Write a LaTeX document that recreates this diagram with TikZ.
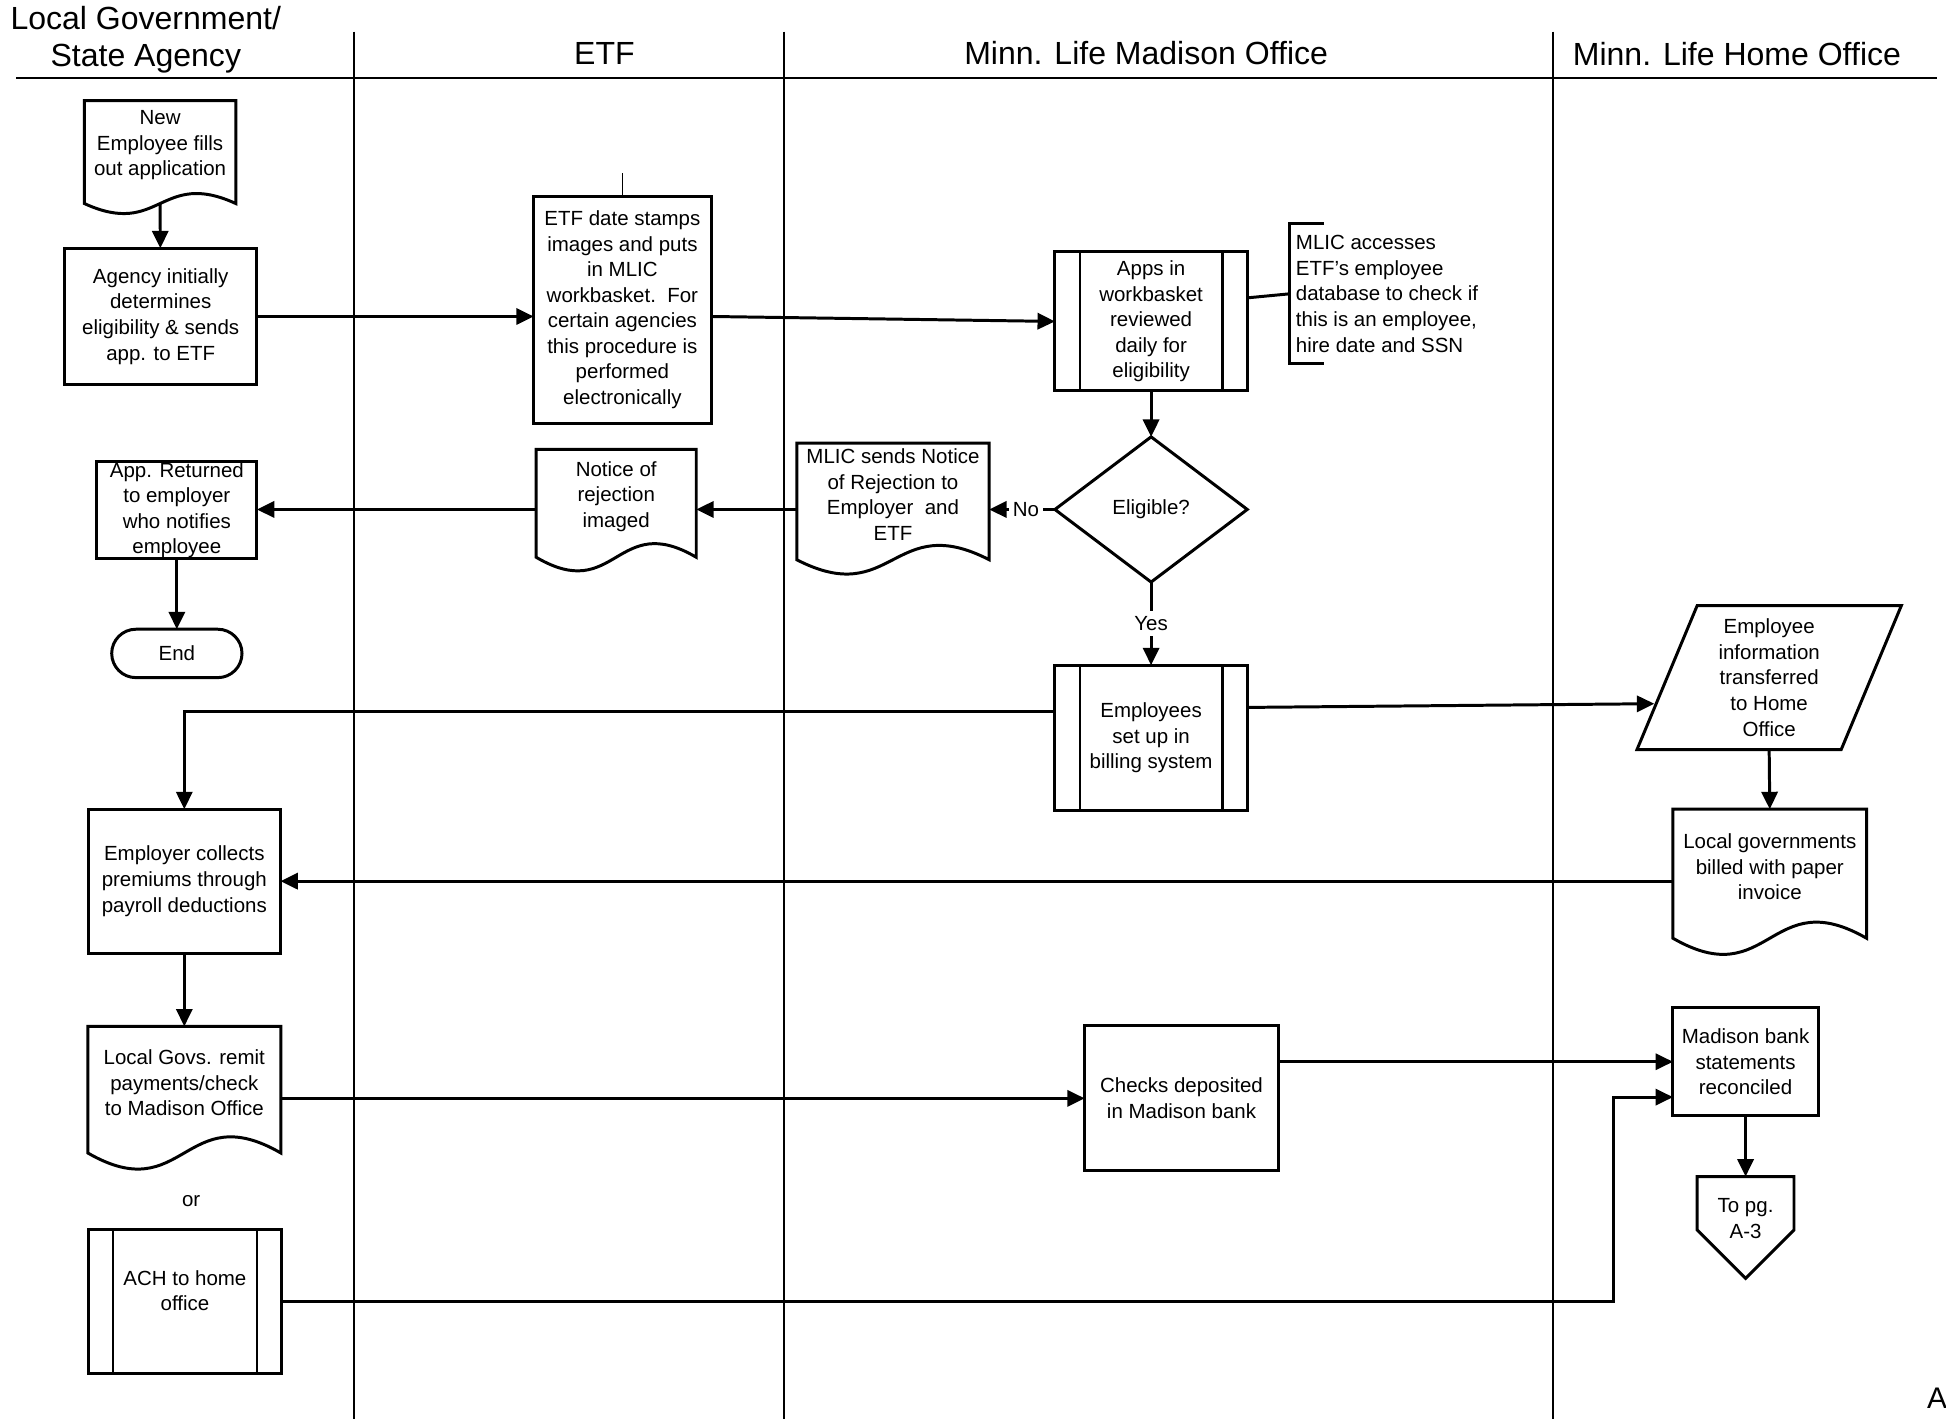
\documentclass[tikz,border=0pt]{standalone}
\usepackage{fontspec}
\setmainfont{Liberation Sans}
\usetikzlibrary{arrows.meta,shapes.geometric}

\newcommand{\flowfont}{\fontsize{16.5}{20.6}\selectfont}
\newcommand{\lanefont}{\fontsize{25.8}{29.7}\selectfont}

\tikzset{
  ln/.style={line width=2.4pt},
  lane/.style={line width=1.6pt},
  procbox/.style={draw, ln, align=center, inner sep=2pt, outer sep=0pt, font=\flowfont},
  docbox/.style={align=center, inner sep=2pt, outer sep=0pt, font=\flowfont},
  arr/.style={ln, -{Triangle[length=14pt,width=13pt]}},
  lbl/.style={fill=white, inner xsep=3pt, inner ysep=4.5pt, font=\flowfont},
}

\begin{document}
\begin{tikzpicture}[x=1pt, y=-1pt]
\useasboundingbox (0,0) rectangle (1568,1143);

\draw[lane] (13,62.7) -- (1560.5,62.7);
\foreach \x in {285,632,1251} \draw[lane] (\x,25.5) -- (\x,1143);

\node[font=\lanefont, align=center] (hlocal) at (117.5,32.2) {Local Government/\\State Agency};
\node[font=\lanefont, anchor=base] (hetf) at (487,52) {ETF};
\node[font=\lanefont, anchor=base] (hmad) at (923.5,52) {Minn. Life Madison Office};
\node[font=\lanefont, anchor=base] (hhome) at (1399.5,53) {Minn. Life Home Office};

\node[docbox, minimum width=122, minimum height=72] (newemp) at (129,117) {New\\Employee fills\\out application};
\node[procbox, minimum width=155, minimum height=110] (agency) at (129.5,255) {Agency initially\\determines\\eligibility \& sends\\app. to ETF};
\node[procbox, minimum width=143, minimum height=183] (etfbox) at (501.5,249.5) {ETF date stamps\\images and puts\\in MLIC\\workbasket.\ \ For\\certain agencies\\this procedure is\\performed\\electronically};
\node[procbox, minimum width=155, minimum height=112] (apps) at (927.5,259) {Apps in\\workbasket\\reviewed\\daily for\\eligibility};
\node[anchor=west, align=left, font=\flowfont, minimum height=112.5, inner xsep=5pt, inner ysep=0pt] (note) at (1039,236.75) {MLIC accesses\\ETF’s employee\\database to check if\\this is an employee,\\hire date and SSN};
\node[procbox, diamond, minimum width=155, minimum height=117, inner sep=0pt] (dia) at (927.5,410.5) {Eligible?};
\node[docbox, minimum width=155, minimum height=83] (mlic) at (719.5,398.5) {MLIC sends Notice\\of Rejection to\\Employer\ \ and\\ETF};
\node[docbox, minimum width=129, minimum height=76] (notice) at (496.5,400) {Notice of\\rejection\\imaged};
\node[procbox, minimum width=129, minimum height=78, inner ysep=0pt] (ret) at (142.5,411) {App. Returned\\to employer\\who notifies\\employee};
\node[procbox, rounded corners=19.5pt, minimum width=105, minimum height=39] (endt) at (142.5,526.5) {End};
\node[procbox, minimum width=155, minimum height=117] (emp) at (927.5,594.5) {Employees\\set up in\\billing system};
\node[procbox, trapezium, trapezium left angle=63.8, trapezium right angle=116.2, trapezium stretches body, minimum width=213, minimum height=116] (info) at (1425.5,546) {Employee\\information\\transferred\\to Home\\Office};
\node[docbox, minimum width=156, minimum height=93] (billed) at (1426,698.5) {Local governments\\billed with paper\\invoice};
\node[procbox, minimum width=155, minimum height=116] (employer) at (148.5,710) {Employer collects\\premiums through\\payroll deductions};
\node[docbox, minimum width=155.5, minimum height=91] (remit) at (148.5,872.5) {Local Govs. remit\\payments/check\\to Madison Office};
\node[font=\flowfont] (ortext) at (154,968) {or};
\node[procbox, minimum width=156, minimum height=116, label={[font=\flowfont, align=center, yshift=9pt]center:ACH to home\\office}] (ach) at (149,1049) {};
\node[procbox, minimum width=156, minimum height=117] (checks) at (952,885) {Checks deposited\\in Madison bank};
\node[procbox, minimum width=117, minimum height=87] (madison) at (1406.5,855.5) {Madison bank\\statements\\reconciled};
\node[docbox, minimum width=78, minimum height=68] (offpg) at (1406.5,982) {To pg.\\A-3};
\node[font=\fontsize{24}{28}\selectfont, anchor=base west, inner sep=0pt] (pgno) at (1552.5,1135) {A};

\foreach \n/\k in {newemp/28, mlic/40, notice/38, billed/45, remit/45}
  \draw[ln] (\n.north west) -- (\n.north east) -- ([shift={(0,11)}]\n.south east)
    .. controls ([shift={(0,11-\k)}]\n.south) and ([shift={(0,11+\k)}]\n.south) .. ([shift={(0,11)}]\n.south west) -- cycle;
\foreach \n in {apps,emp,ach}
  \draw[line width=1.8pt] ([xshift=20pt]\n.north west) -- ([xshift=20pt]\n.south west)
    ([xshift=-20pt]\n.north east) -- ([xshift=-20pt]\n.south east);
\draw[ln] (offpg.north west) -- (offpg.north east) -- ([shift={(0,43)}]offpg.north east) -- ([shift={(0,14)}]offpg.south) -- ([shift={(0,43)}]offpg.north west) -- cycle;
\draw[ln] ([xshift=28pt]note.north west) -- (note.north west) -- (note.south west) -- ([xshift=28pt]note.south west);
\draw[line width=0.8pt] (etfbox.north) -- ++(0,-19);

\draw[arr] ([shift={(0,11)}]newemp.south) -- (agency);
\draw[arr] (agency.east) -- (agency.east -| etfbox.west);
\draw[arr] (agency.east -| etfbox.east) -- (apps.west);
\draw[ln] ([shift={(0,-19)}]apps.east) -- (note.west);
\draw[arr] (apps) -- (dia);
\draw[arr] (dia.west) -- node[lbl, pos=0.44] (nolbl) {No} (dia.west -| mlic.east);
\draw[arr] (mlic.west |- dia) -- (notice.east |- dia);
\draw[arr] (notice.west |- dia) -- (ret.east |- dia);
\draw[arr] (ret) -- (endt);
\draw[arr] (dia) -- node[lbl] (yeslbl) {Yes} (emp);
\draw[arr] ([shift={(0,-21.5)}]emp.west) -| (employer.north);
\draw[arr] ([shift={(0,-24.5)}]emp.east) -- ([shift={(-10.3,21)}]info.left side);
\draw[arr] (info.south) -- (billed.north);
\draw[arr] (billed.west |- employer) -- (employer.east);
\draw[arr] (employer) -- (remit);
\draw[arr] (remit.east |- checks) -- (checks.west);
\draw[arr] (checks.east |- madison) -- (madison.west);
\draw[arr] (ach.east) -| ([shift={(-48,28.5)}]madison.west) -- ([shift={(0,28.5)}]madison.west);
\draw[arr] (madison) -- (offpg);
\end{tikzpicture}
\end{document}
